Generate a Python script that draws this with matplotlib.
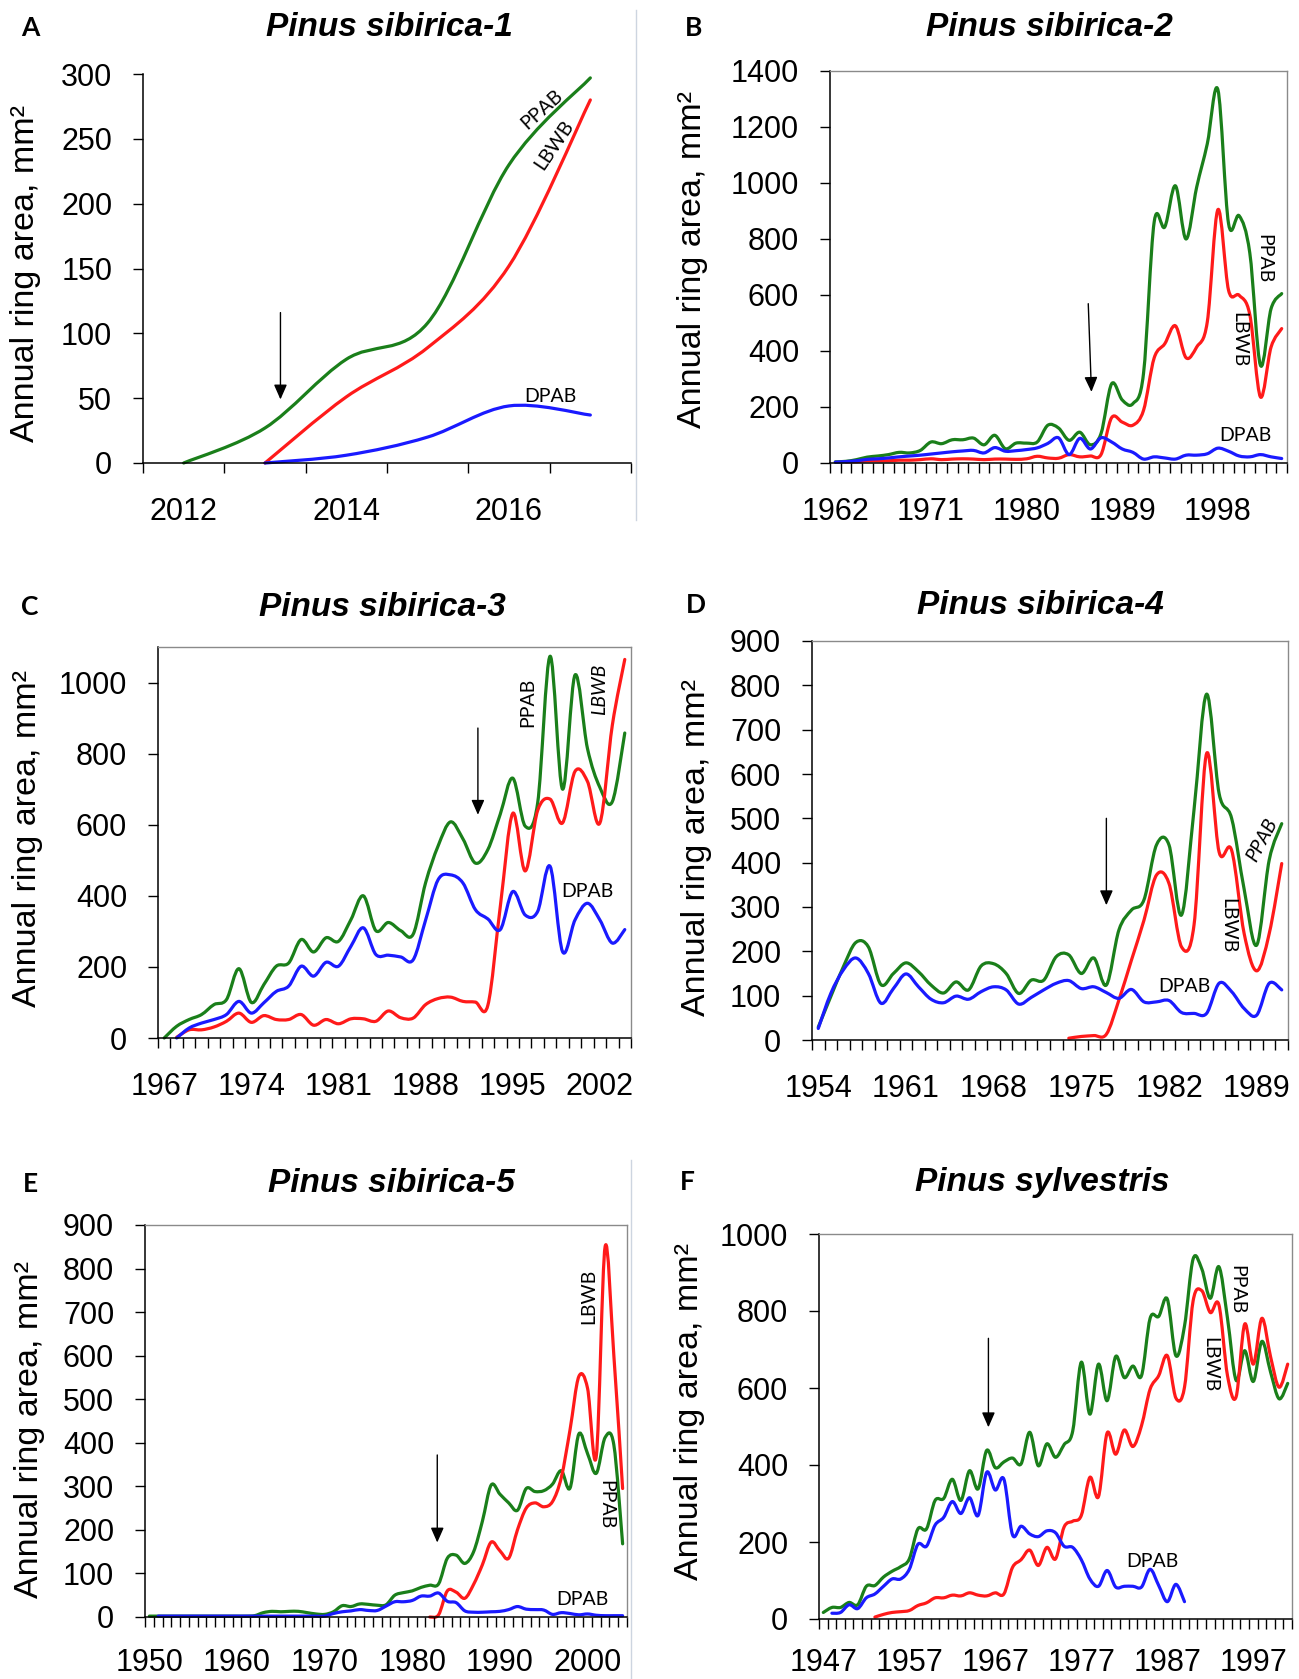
import numpy as np
import matplotlib.pyplot as plt
from matplotlib.path import Path
from matplotlib.patches import PathPatch
from matplotlib.lines import Line2D

plt.rcParams['font.family'] = 'Liberation Sans'

# ---- data ----
a_years = [2012, 2013, 2014, 2015, 2016, 2017]
a_ppab = [0, 27, 80, 108, 230, 297]
a_lbwb = [0, 51, 89, 152, 280]            # from 2013
a_dpab = [0, 6, 20, 44, 37]               # from 2013

b_years = list(range(1962, 2005))
b_ppab = [4, 6, 12, 21, 25, 30, 38, 36, 45, 75, 69, 83, 83, 89, 65, 99, 51, 71, 71, 75,
          135, 125, 81, 110, 65, 105, 283, 225, 212, 320, 860, 843, 990, 800, 985, 1140,
          1333, 855, 883, 750, 349, 551, 605]
b_lbwb = [4, 5, 8, 8, 8, 10, 10, 12, 15, 12, 14, 15, 14, 12, 14, 14, 13, 15, 24, 18, 17,
          30, 22, 25, 30, 162, 146, 135, 188, 375, 426, 490, 376, 414, 504, 905, 617, 599,
          530, 236, 414, 480]             # from 1963
b_dpab = [3, 5, 8, 13, 15, 18, 22, 25, 28, 32, 36, 40, 43, 45, 36, 55, 42, 44, 48, 54,
          70, 90, 30, 88, 50, 90, 75, 50, 38, 14, 22, 18, 14, 28, 28, 33, 53, 42, 25, 22,
          30, 22, 16]

c_years = list(range(1967, 2005))
c_ppab = [0, 33, 52, 66, 94, 108, 195, 100, 150, 202, 211, 277, 242, 282, 272, 333, 400,
          302, 325, 302, 292, 437, 540, 608, 560, 492, 530, 630, 731, 596, 661, 1074, 700,
          1021, 815, 705, 665, 858]
c_lbwb = [2, 23, 23, 31, 47, 70, 44, 63, 52, 52, 66, 36, 52, 40, 54, 54, 47, 76, 57, 56,
          94, 111, 115, 103, 101, 92, 370, 632, 470, 640, 672, 605, 750, 722, 605, 880,
          1065]                           # from 1968
c_dpab = [0, 28, 42, 52, 66, 103, 70, 99, 131, 146, 202, 174, 213, 202, 258, 310, 235,
          233, 228, 220, 332, 445, 459, 436, 361, 335, 305, 412, 346, 356, 483, 243, 332,
          379, 332, 267, 305]             # from 1968

d_years = list(range(1954, 1992))
d_ppab = [29, 98, 165, 220, 210, 125, 150, 174, 154, 124, 106, 131, 113, 167, 172, 150,
          105, 135, 135, 188, 192, 150, 185, 124, 248, 293, 316, 440, 440, 282, 520, 780,
          556, 500, 340, 214, 406, 488]
d_lbwb = [4, 8, 10, 13, 90, 180, 270, 372, 353, 210, 260, 646, 424, 428, 240, 156, 240,
          398]                            # from 1974
d_dpab = [26, 105, 158, 185, 150, 83, 116, 149, 120, 92, 84, 99, 92, 109, 120, 113, 81,
          96, 113, 128, 134, 116, 120, 107, 94, 114, 86, 86, 89, 62, 60, 60, 128, 109, 71,
          56, 128, 113]

e_years = list(range(1950, 2005))
e_ppab = [2, 2, 2, 2, 2, 2, 2, 2, 2, 2, 2, 2, 3, 10, 13, 12, 13, 13, 10, 7, 6, 12, 26,
          24, 30, 29, 27, 28, 50, 56, 60, 68, 73, 76, 135, 142, 123, 150, 220, 303, 282,
          262, 245, 295, 288, 290, 305, 336, 296, 420, 375, 330, 412, 395, 168]
e_lbwb = [0, 5, 60, 57, 43, 75, 120, 172, 152, 135, 200, 250, 262, 253, 265, 320, 430,
          552, 525, 370, 850, 600, 295]   # from 1982
e_dpab = [2, 2, 2, 2, 2, 2, 2, 2, 2, 2, 2, 2, 2, 2, 2, 2, 2, 2, 2, 2, 8, 12, 14, 17, 15,
          15, 25, 35, 35, 38, 48, 48, 55, 36, 33, 14, 11, 11, 12, 13, 17, 24, 18, 17, 16,
          6, 10, 8, 5, 7, 4, 3, 3, 3]     # from 1951

f_years = list(range(1947, 2002))
f_ppab = [17, 30, 30, 43, 37, 85, 87, 109, 124, 136, 156, 234, 234, 308, 313, 363, 308,
          385, 338, 438, 393, 408, 418, 403, 485, 398, 455, 420, 453, 488, 667, 532, 662,
          567, 682, 627, 657, 632, 781, 786, 831, 684, 761, 935, 910, 833, 915, 781, 620,
          697, 617, 721, 642, 572, 612]
f_lbwb = [5, 12, 17, 19, 22, 35, 42, 55, 55, 62, 60, 68, 62, 60, 68, 65, 134, 154, 179,
          139, 186, 156, 239, 254, 269, 368, 318, 483, 428, 491, 448, 502, 597, 632, 684,
          574, 602, 826, 853, 796, 816, 632, 577, 766, 662, 781, 682, 602, 662]  # from 1953
f_dpab = [15, 17, 37, 27, 55, 65, 85, 104, 104, 129, 194, 189, 244, 264, 305, 274, 315,
          269, 381, 335, 363, 219, 241, 221, 214, 229, 224, 189, 186, 154, 104, 85, 126,
          83, 85, 85, 83, 129, 87, 45, 90, 45]  # 1948-1989

GREEN = '#1a7f1a'
RED = '#ff1a1a'
BLUE = '#1a1aff'

W, H = 1299, 1679
fig = plt.figure(figsize=(W / 100, H / 100), dpi=100)


def rect(l, r, t, b):
    return [l / W, 1 - b / H, (r - l) / W, (b - t) / H]


def smooth_line(ax, years, first_year, vals, color):
    # smoothed line like the spreadsheet: bezier through the points
    x = np.array([years.index(first_year) + k for k in range(len(vals))], float)
    pts = np.column_stack([x, np.asarray(vals, float)])
    n = len(pts)
    verts = [pts[0]]
    codes = [Path.MOVETO]
    for i in range(n - 1):
        p0 = pts[max(i - 1, 0)]
        p1 = pts[i]
        p2 = pts[i + 1]
        p3 = pts[min(i + 2, n - 1)]
        verts += [p1 + (p2 - p0) / 6, p2 - (p3 - p1) / 6, p2]
        codes += [Path.CURVE4] * 3
    ax.add_patch(PathPatch(Path(verts, codes), fill=False, edgecolor=color, lw=2.3,
                           capstyle='round', joinstyle='round', clip_on=False))


def setup(ax, years, every, ymax, yticks, box=True, xpad=24.5):
    n = len(years)
    ax.set_xlim(-0.5, n - 0.5)
    ax.set_ylim(0, ymax)
    ax.set_xticks(np.arange(n + 1) - 0.5)
    ax.set_xticklabels([])
    idx = list(range(0, n, every))
    ax.set_xticks(idx, minor=True)
    ax.set_xticklabels([str(years[i]) for i in idx], minor=True)
    ax.tick_params(axis='x', which='major', direction='out', length=7.2, width=1)
    ax.tick_params(axis='x', which='minor', length=0, pad=xpad, labelsize=22)
    ax.set_yticks(yticks)
    ax.tick_params(axis='y', direction='out', length=7.2, width=1, pad=15, labelsize=22)
    for s in ['left', 'bottom']:
        ax.spines[s].set_color('k')
        ax.spines[s].set_linewidth(1.1)
    if box:
        for s in ['top', 'right']:
            ax.spines[s].set_color('#8a8a8a')
            ax.spines[s].set_linewidth(1.0)
    else:
        ax.spines['top'].set_visible(False)
        ax.spines['right'].set_visible(False)


def arrow(ax, x0, y0, x1, y1):
    ax.annotate('', xy=(x1, y1), xytext=(x0, y0),
                arrowprops=dict(arrowstyle='-|>,head_length=0.5,head_width=0.22',
                                color='k', lw=1, mutation_scale=18, shrinkA=0, shrinkB=0))


def lab(ax, x, y, s, rot=0, style='normal'):
    ax.text(x, y, s, rotation=rot, ha='center', va='center', fontsize=14,
            family='Lato', style=style)


def heading(x, y, letter, title, lx, ly):
    fig.text(lx / W, 1 - ly / H, letter, fontsize=19, fontweight='bold', family='Lato',
             ha='center', va='center')
    fig.text(x / W, 1 - y / H, title, fontsize=24, fontweight='bold', style='italic',
             ha='center', va='center')


def ylab(x, y):
    fig.text(x / W, 1 - y / H, 'Annual ring area, mm\u00b2', rotation=90, fontsize=24.5,
             ha='center', va='center')


# ---- A ----
ax = fig.add_axes(rect(143, 631, 74, 463))
setup(ax, a_years, 2, 300, range(0, 301, 50), box=False)
smooth_line(ax, a_years, 2012, a_ppab, GREEN)
smooth_line(ax, a_years, 2013, a_lbwb, RED)
smooth_line(ax, a_years, 2013, a_dpab, BLUE)
arrow(ax, 1.19, 116, 1.19, 49)
lab(ax, 4.41, 273, 'PPAB', 42)
lab(ax, 4.56, 245, 'LBWB', 56)
lab(ax, 4.51, 51, 'DPAB')
heading(389, 28, 'A', 'Pinus sibirica-1', 30, 28)
ylab(26, 273)

# ---- B ----
ax = fig.add_axes(rect(830, 1287, 71, 463))
setup(ax, b_years, 9, 1400, range(0, 1401, 200))
smooth_line(ax, b_years, 1962, b_ppab, GREEN)
smooth_line(ax, b_years, 1963, b_lbwb, RED)
smooth_line(ax, b_years, 1962, b_dpab, BLUE)
arrow(ax, 23.8, 569, 24.1, 254)
lab(ax, 40.3, 730, 'PPAB', -90)
lab(ax, 38.0, 440, 'LBWB', -90)
lab(ax, 38.6, 99, 'DPAB')
heading(1049, 28, 'B', 'Pinus sibirica-2', 694, 28)
ylab(692, 260)

# ---- C ----
ax = fig.add_axes(rect(158, 631, 647, 1038))
setup(ax, c_years, 7, 1100, range(0, 1001, 200))
smooth_line(ax, c_years, 1967, c_ppab, GREEN)
smooth_line(ax, c_years, 1968, c_lbwb, RED)
smooth_line(ax, c_years, 1968, c_dpab, BLUE)
arrow(ax, 25.2, 872, 25.2, 628)
lab(ax, 29.2, 943, 'PPAB', 90)
lab(ax, 35.0, 980, 'LBWB', 90, 'italic')
lab(ax, 34.0, 412, 'DPAB')
heading(382, 607, 'C', 'Pinus sibirica-3', 30, 607)
ylab(28, 838)

# ---- D ----
ax = fig.add_axes(rect(812, 1288, 641, 1040))
setup(ax, d_years, 7, 900, range(0, 901, 100))
smooth_line(ax, d_years, 1954, d_ppab, GREEN)
smooth_line(ax, d_years, 1974, d_lbwb, RED)
smooth_line(ax, d_years, 1954, d_dpab, BLUE)
arrow(ax, 23.0, 500, 23.0, 304)
lab(ax, 35.4, 451, 'PPAB', 62, 'italic')
lab(ax, 32.7, 259, 'LBWB', -90)
lab(ax, 29.2, 120, 'DPAB')
heading(1040, 605, 'D', 'Pinus sibirica-4', 696, 605)
ylab(696, 847)

# ---- E ----
ax = fig.add_axes(rect(145, 627, 1225, 1617))
setup(ax, e_years, 10, 900, range(0, 901, 100), xpad=22)
smooth_line(ax, e_years, 1950, e_ppab, GREEN)
smooth_line(ax, e_years, 1982, e_lbwb, RED)
smooth_line(ax, e_years, 1951, e_dpab, BLUE)
arrow(ax, 32.85, 372, 32.85, 171)
lab(ax, 50.1, 736, 'LBWB', 90)
lab(ax, 52.1, 259, 'PPAB', -90)
lab(ax, 49.4, 40, 'DPAB')
heading(391, 1184, 'E', 'Pinus sibirica-5', 30, 1184)
ylab(30, 1430)

# ---- F ----
ax = fig.add_axes(rect(819, 1292, 1234, 1619))
setup(ax, f_years, 10, 1000, range(0, 1001, 200), xpad=21)
smooth_line(ax, f_years, 1947, f_ppab, GREEN)
smooth_line(ax, f_years, 1953, f_lbwb, RED)
smooth_line(ax, f_years, 1948, f_dpab, BLUE)
arrow(ax, 19.2, 729, 19.2, 498)
lab(ax, 48.1, 856, 'PPAB', -90)
lab(ax, 44.9, 662, 'LBWB', -90)
lab(ax, 38.3, 149, 'DPAB')
heading(1042, 1182, 'F', 'Pinus sylvestris', 687, 1182)
ylab(690, 1412)

# faint panel borders
for x, y0, y1 in [(636, 10, 520), (631, 1160, 1679)]:
    fig.add_artist(Line2D([x / W, x / W], [1 - y0 / H, 1 - y1 / H], color='#cdd5e0', lw=1))

fig.savefig('out.png', dpi=100)
